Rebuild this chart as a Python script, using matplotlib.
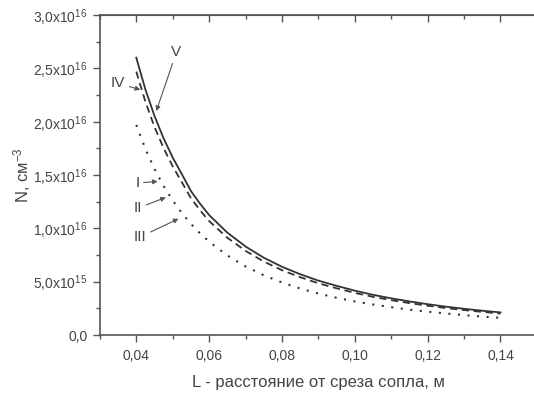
import matplotlib
matplotlib.use("Agg")
import matplotlib.pyplot as plt
from matplotlib.ticker import MultipleLocator, FuncFormatter

plt.rcParams['font.family'] = ['Liberation Sans', 'DejaVu Sans']
plt.rcParams['mathtext.fontset'] = 'custom'
plt.rcParams['mathtext.rm'] = 'Liberation Sans'
plt.rcParams['mathtext.it'] = 'Liberation Sans:italic'

# distance from the nozzle exit, m (denser where the curves bend most)
L = [0.040, 0.0425, 0.045, 0.0475, 0.050, 0.0525, 0.055, 0.0575, 0.060, 0.065,
     0.070, 0.075, 0.080, 0.085, 0.090, 0.095, 0.100, 0.105, 0.110, 0.115, 0.120,
     0.125, 0.130, 0.135, 0.140]

# concentration N, cm^-3
N_V = [2.60e16, 2.303e16, 2.054e16, 1.844e16, 1.664e16, 1.509e16, 1.35e16, 1.232e16,
       1.125e16, 9.6e15, 8.3e15, 7.25e15, 6.4e15, 5.7e15, 5.1e15, 4.61e15, 4.16e15,
       3.77e15, 3.44e15, 3.15e15, 2.89e15, 2.66e15, 2.46e15, 2.28e15, 2.12e15]
N_IV = [2.47e16, 2.188e16, 1.951e16, 1.752e16, 1.581e16, 1.434e16, 1.283e16, 1.17e16,
        1.069e16, 9.12e15, 7.89e15, 6.89e15, 6.08e15, 5.42e15, 4.85e15, 4.38e15,
        3.95e15, 3.58e15, 3.27e15, 2.99e15, 2.75e15, 2.53e15, 2.34e15, 2.17e15,
        2.01e15]
N_I_III = [1.97e16, 1.745e16, 1.557e16, 1.397e16, 1.261e16, 1.144e16, 1.042e16,
           9.53e15, 8.76e15, 7.46e15, 6.43e15, 5.6e15, 4.93e15, 4.36e15, 3.89e15,
           3.49e15, 3.15e15, 2.86e15, 2.61e15, 2.38e15, 2.19e15, 2.02e15, 1.86e15,
           1.73e15, 1.61e15]

# curve labels: (text, text position, arrow tip)
labels = [
    ("V", (0.0510, 2.65e16), (0.0455, 2.10e16)),
    ("IV", (0.0350, 2.36e16), (0.0411, 2.30e16)),
    ("I", (0.0403, 1.425e16), (0.0459, 1.44e16)),
    ("II", (0.0405, 1.19e16), (0.0481, 1.29e16)),
    ("III", (0.0411, 9.2e15), (0.0516, 1.09e16)),
]

ink = '#333333'
axis_col = '#555555'
text_col = '#444444'

fig = plt.figure(figsize=(5.34, 3.96), dpi=100)
ax = fig.add_axes([0.187, 0.154, 0.8184, 0.808])

ax.plot(L, N_I_III, color=ink, lw=1.5, linestyle=(0, (1, 3.6)))
ax.plot(L, N_IV, color=ink, lw=1.3, linestyle=(0, (4, 2.6)))
ax.plot(L, N_V, color=ink, lw=1.3)

for txt, xy_text, xy_tip in labels:
    ax.annotate(txt, xy=xy_tip, xytext=xy_text, ha='center', va='center',
                fontsize=11, color=text_col,
                arrowprops=dict(arrowstyle='-|>', color='#555555', lw=0.8,
                                mutation_scale=7, shrinkA=1, shrinkB=0))

ax.set_xlim(0.03, 0.15)
ax.set_ylim(0, 3.0e16)

ax.xaxis.set_minor_locator(MultipleLocator(0.01))
ax.yaxis.set_major_locator(MultipleLocator(5e15))
ax.yaxis.set_minor_locator(MultipleLocator(2.5e15))

# the 0.03 tick sits on the left spine and carries no label
ax.set_xticks([0.04, 0.06, 0.08, 0.10, 0.12, 0.14])
ax.xaxis.set_major_formatter(FuncFormatter(lambda v, p: f"{v:.2f}".replace('.', ',')))


def sci_comma(v, pos):
    if v == 0:
        return "0,0"
    exp = len(str(int(round(v)))) - 1
    mant = v / 10 ** exp
    return f"{mant:.1f}".replace('.', ',') + r"x10$^{" + str(exp) + "}$"


ax.yaxis.set_major_formatter(FuncFormatter(sci_comma))

ax.tick_params(axis='both', which='major', direction='out', length=5, width=1,
               color=axis_col, labelcolor=text_col, labelsize=10, pad=4)
ax.tick_params(axis='both', which='minor', direction='out', length=3, width=1,
               color=axis_col)
ax.tick_params(axis='x', which='major', pad=5)

# inward ticks on the top spine
top = ax.secondary_xaxis('top')
top.xaxis.set_major_locator(MultipleLocator(0.02))
top.xaxis.set_minor_locator(MultipleLocator(0.01))
top.tick_params(which='major', direction='in', length=5, width=1, color=axis_col,
                labeltop=False)
top.tick_params(which='minor', direction='in', length=3, width=1, color=axis_col)
top.spines['top'].set_color(axis_col)

for s in ax.spines.values():
    s.set_color(axis_col)
    s.set_linewidth(1.2)

ax.set_xlabel("L - расстояние от среза сопла, м", fontsize=12, color=text_col,
              labelpad=9)
ax.set_ylabel(r"N, см$^{-3}$", fontsize=12, color=text_col, labelpad=0)

fig.savefig("out.png", dpi=100)
